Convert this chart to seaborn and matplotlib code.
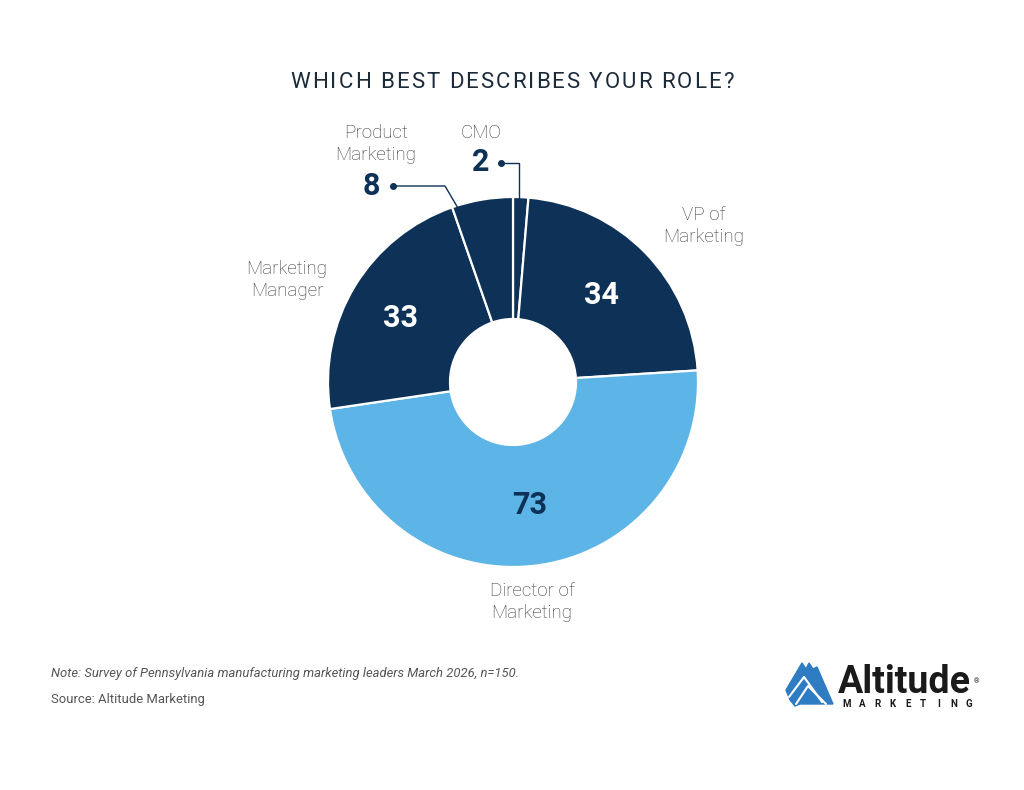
import matplotlib
matplotlib.use("Agg")
import numpy as np
import matplotlib.pyplot as plt
import seaborn as sns
from matplotlib.patches import Polygon

# survey data
roles = ["CMO", "VP of\nMarketing", "Director of\nMarketing", "Marketing\nManager", "Product\nMarketing"]
counts = [2, 34, 73, 33, 8]
navy = "#0d3157"
sky = "#5db4e6"
shades = [navy, navy, sky, navy, navy]

sns.set_theme(style="white")
plt.rcParams["font.family"] = ["Roboto", "DejaVu Sans"]

fig = plt.figure(figsize=(10.24, 7.9), dpi=100)
ax = fig.add_axes([0, 0, 1, 1])

# donut in pixel space
cx, cy, r, hole = 513, 408, 185, 63
wedges, _ = ax.pie(counts, colors=shades, startangle=90, counterclock=False,
                   center=(cx, cy), radius=r,
                   wedgeprops=dict(width=r - hole, edgecolor="white", linewidth=1.6))
ax.set_xlim(0, 1024)
ax.set_ylim(0, 790)
ax.set_aspect("equal")
ax.axis("off")

def polar(ang, rad):
    a = np.deg2rad(ang)
    return cx + rad * np.cos(a), cy + rad * np.sin(a)

# numbers inside the big slices
mid_r = (r + hole) / 2
shift = {1: (0, 0), 2: (4, 0), 3: (-6, 0)}
for i in [1, 2, 3]:
    w = wedges[i]
    x, y = polar((w.theta1 + w.theta2) / 2, mid_r)
    col = "white" if shades[i] == navy else navy
    ax.text(x + shift[i][0], y + shift[i][1], str(counts[i]), ha="center", va="center",
            fontsize=22, fontweight="bold", color=col)

lab_col = "#383838"
lab = dict(ha="center", va="center", fontsize=13.5, color=lab_col, linespacing=1.3, fontweight="light")
ax.text(704, 564, roles[1], **lab)
ax.text(532, 188, roles[2], **lab)
ax.text(287, 510, roles[3], **lab)

# small slices with leader lines
ax.text(376, 646, roles[4], **lab)
ax.text(371, 604, str(counts[4]), ha="center", va="center", fontsize=22, fontweight="bold", color=navy)
ax.text(481, 657, roles[0], **lab)
ax.text(481, 628, str(counts[0]), ha="center", va="center", fontsize=22, fontweight="bold", color=navy)

w = wedges[4]
ex, ey = polar(w.theta1 + 0.92 * (w.theta2 - w.theta1), r - 1)
ax.plot([393, 445, ex], [604, 604, ey], color=navy, lw=1)
ax.plot(393, 604, "o", color=navy, ms=4)

w = wedges[0]
ex, ey = polar(w.theta1 + 0.6 * (w.theta2 - w.theta1), r - 1)
ax.plot([501, ex, ex], [627, 627, ey], color=navy, lw=1)
ax.plot(501, 627, "o", color=navy, ms=4)

# title with letter spacing
title = "WHICH BEST DESCRIBES YOUR ROLE?"
renderer = fig.canvas.get_renderer()
gap = 2.0
widths = []
for ch in title:
    t = ax.text(0, 0, ch if ch != " " else "a a", fontsize=16)
    bb = t.get_window_extent(renderer)
    if ch == " ":
        t2 = ax.text(0, 0, "aa", fontsize=16)
        w_ = bb.width - t2.get_window_extent(renderer).width
        t2.remove()
    else:
        w_ = bb.width
    widths.append(w_)
    t.remove()
total = sum(widths) + gap * (len(title) - 1)
x0 = 512 - total / 2
for ch, w_ in zip(title, widths):
    if ch != " ":
        ax.text(x0, 708, ch, ha="left", va="center", fontsize=16, color="#1c2b3a")
    x0 += w_ + gap

# notes
ax.text(51, 116, "Note: Survey of Pennsylvania manufacturing marketing leaders March 2026, n=150.",
        ha="left", va="center", fontsize=9.4, style="italic", color="#555555")
ax.text(51, 91, "Source: Altitude Marketing", ha="left", va="center", fontsize=9.4, color="#555555")

# logo
blue = "#2e7cc1"
mount = [(786, 100), (802, 127), (806, 121), (809, 127), (813, 121), (817, 123),
         (833, 86), (800, 86), (795, 84), (790, 90)]
ax.add_patch(Polygon(mount, closed=True, color=blue, zorder=3))
ax.plot([789, 804, 822], [93, 113, 88], color="white", lw=1.5, zorder=4)
ax.plot([796, 808, 826], [86, 104, 86], color="white", lw=1.5, zorder=4)
ax.text(838, 97, "Altitude", ha="left", va="baseline", fontsize=27, fontweight="bold",
        color="#1a1a1a")
ax.text(974, 108, "®", ha="left", va="center", fontsize=5, color="#1a1a1a")
for i, ch in enumerate("MARKETING"):
    ax.text(847 + i * 15.2, 86, ch, ha="center", va="center", fontsize=7,
            fontweight="bold", color="#1a1a1a")

fig.savefig("out.png", dpi=100, facecolor="white")
